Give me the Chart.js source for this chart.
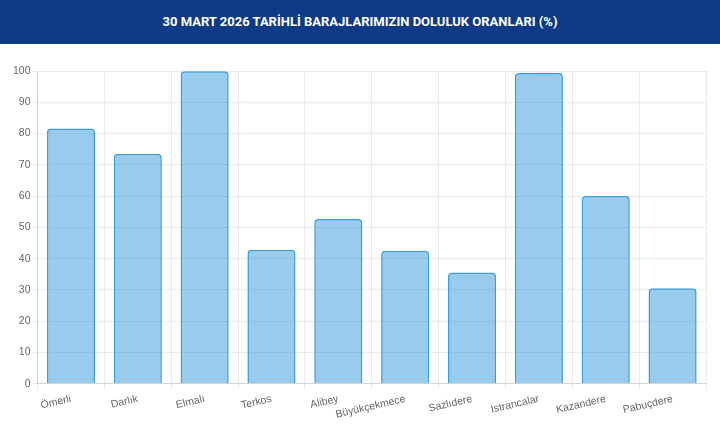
<!DOCTYPE html>
<html lang="tr">
<head>
<meta charset="UTF-8">
<title>Baraj Doluluk Oranları</title>
<script src="https://cdn.jsdelivr.net/npm/chart.js"></script>
<style>
    body { margin: 0; background: #fff; width: 720px; height: 430px; overflow: hidden; }
    .header {
        height: 44px; background: #0e3a86; color: #fff;
        font-family: Roboto, sans-serif; font-weight: 700; font-size: 13px;
        line-height: 44px; text-align: center;
    }
    .wrap { position: relative; width: 720px; height: 386px; }
</style>
</head>
<body>
<div class="header">30 MART 2026 TARİHLİ BARAJLARIMIZIN DOLULUK ORANLARI (%)</div>
<div class="wrap"><canvas id="barajChart"></canvas></div>
<script>
    const barajlar = ['Ömerli', 'Darlık', 'Elmalı', 'Terkos', 'Alibey', 'Büyükçekmece', 'Sazlıdere', 'Istrancalar', 'Kazandere', 'Pabuçdere'];
    const doluluk = [81.6, 73.5, 99.9, 42.8, 52.7, 42.5, 35.6, 99.4, 60.0, 30.5];

    Chart.defaults.font.family = "'Liberation Sans', Arial, sans-serif";
    Chart.defaults.font.size = 10.5;
    Chart.defaults.color = '#666';

    const ctx = document.getElementById('barajChart').getContext('2d');
    new Chart(ctx, {
        type: 'bar',
        data: {
            labels: barajlar,
            datasets: [{
                label: 'Doluluk (%)',
                data: doluluk,
                backgroundColor: 'rgba(52, 152, 219, 0.5)',
                borderColor: 'rgba(52, 152, 219, 0.95)',
                borderWidth: 1.5,
                borderRadius: 4
            }]
        },
        options: {
            responsive: true,
            maintainAspectRatio: false,
            animation: false,
            layout: { padding: { top: 27, right: 14, bottom: 6, left: 11 } },
            plugins: {
                legend: { display: false },
                tooltip: { enabled: false }
            },
            scales: {
                x: {
                    grid: { color: 'rgba(0,0,0,0.08)', tickLength: 6 },
                    ticks: { autoSkip: false, minRotation: 13, maxRotation: 13, padding: 3 }
                },
                y: {
                    min: 0,
                    max: 100,
                    grid: { color: 'rgba(0,0,0,0.08)', tickLength: 5 },
                    ticks: { stepSize: 10, padding: 2 }
                }
            }
        }
    });
</script>
</body>
</html>
